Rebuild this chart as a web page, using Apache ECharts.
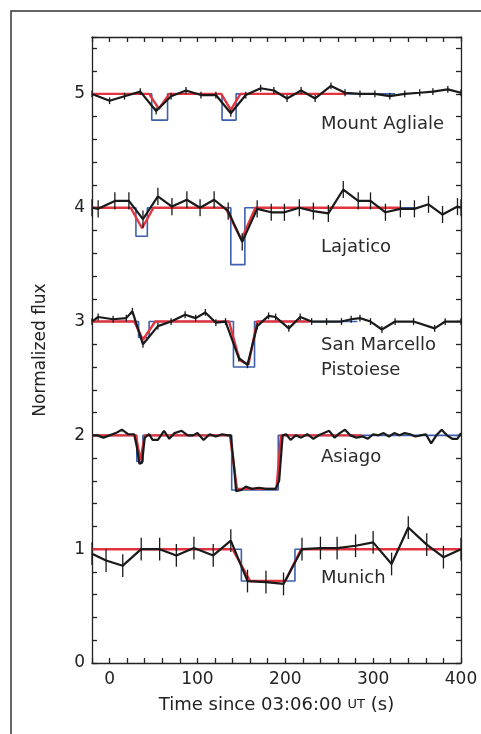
<!DOCTYPE html>
<html>
<head>
<meta charset="utf-8">
<script src="https://cdn.jsdelivr.net/npm/echarts@6/dist/echarts.min.js"></script>
<style>
  html, body { margin: 0; padding: 0; background: #fff; }
  #chart { width: 481px; height: 734px; }
</style>
</head>
<body>
<div id="chart"></div>
<script>
// observed light curves, offset per station (seconds since 03:06:00 UT, normalized flux)
const aglialeT = [-20, 0, 17, 35, 53, 70, 87, 104, 121, 138, 155, 172, 187, 202, 218, 234, 252, 268, 285, 302, 319, 336, 353, 368, 385, 400];
const aglialeV = [5.0, 4.94, 4.98, 5.02, 4.85, 4.98, 5.03, 4.99, 4.99, 4.83, 4.99, 5.05, 5.03, 4.96, 5.03, 4.96, 5.07, 5.01, 5.0, 5.0, 4.98, 5.0, 5.01, 5.02, 5.04, 5.01];

const lajaticoT = [-20, -13, 6, 22, 38, 55, 71, 88, 103, 119, 135, 151, 168, 184, 199, 216, 232, 249, 266, 283, 297, 314, 331, 347, 363, 379, 396, 400];
const lajaticoV = [4.0, 3.99, 4.06, 4.06, 3.9, 4.1, 4.01, 4.07, 4.0, 4.07, 3.97, 3.7, 3.99, 3.96, 3.96, 4.0, 3.97, 3.95, 4.16, 4.06, 4.06, 3.96, 3.99, 3.99, 4.03, 3.94, 4.01, 4.0];

const marcelloT = [-20, -13, 4, 19, 26, 38, 55, 70, 86, 98, 109, 121, 132, 147, 157, 168, 181, 189, 204, 217, 230, 247, 264, 275, 285, 297, 310, 325, 346, 370, 382, 400];
const marcelloV = [3.0, 3.04, 3.02, 3.03, 3.09, 2.8, 2.96, 3.0, 3.06, 3.03, 3.08, 2.99, 3.0, 2.68, 2.62, 2.96, 3.05, 3.04, 2.94, 3.04, 3.0, 3.0, 3.0, 3.02, 3.03, 3.0, 2.93, 3.0, 3.0, 2.94, 3.0, 3.0];

const asiagoT = [-20, -14, -7, 0, 7, 14, 21, 28, 31, 34, 37, 40, 45, 49, 55, 62, 68, 74, 82, 89, 95, 100, 107, 114, 121, 128, 135, 138, 142, 144, 150, 155, 162, 170, 178, 185, 189, 193, 197, 201, 206, 212, 218, 225, 232, 238, 244, 250, 256, 262, 268, 274, 281, 288, 294, 300, 306, 312, 318, 324, 330, 336, 342, 348, 354, 360, 366, 372, 378, 384, 390, 396, 400];
const asiagoV = [2.0, 2.0, 1.98, 2.0, 2.02, 2.05, 2.01, 2.01, 1.9, 1.75, 1.76, 1.98, 2.01, 1.96, 1.96, 2.04, 1.97, 2.02, 2.04, 2.0, 2.0, 2.02, 1.96, 2.01, 1.99, 2.01, 2.0, 2.0, 1.7, 1.51, 1.52, 1.55, 1.53, 1.54, 1.53, 1.53, 1.53, 1.6, 2.0, 2.01, 1.96, 2.0, 1.98, 2.01, 1.97, 2.0, 2.02, 2.04, 1.98, 2.02, 2.05, 2.0, 1.98, 1.99, 1.97, 2.01, 2.0, 2.02, 1.99, 2.02, 2.0, 2.02, 2.01, 1.99, 2.0, 2.01, 1.93, 2.0, 2.05, 2.0, 1.97, 1.97, 2.02];

const munichT = [-20, -4, 15, 36, 57, 76, 96, 118, 138, 157, 178, 198, 219, 240, 259, 280, 300, 321, 340, 361, 380, 400];
const munichV = [0.96, 0.9, 0.855, 1.0, 1.0, 0.945, 1.01, 0.945, 1.075, 0.72, 0.71, 0.695, 1.0, 1.01, 1.01, 1.03, 1.06, 0.87, 1.19, 1.04, 0.93, 1.0];

// error bar half-heights per station
const errAgliale = 0.03, errLajatico = 0.075, errMarcello = 0.03, errMunich = 0.1;

// smoothed model (red)
const redAgliale = [[-20, 5], [45, 5], [56, 4.87], [68, 5], [127, 5], [138, 4.86], [149, 5], [270, 5]];
const redLajatico = [[-20, 4], [24, 4], [37, 3.82], [50, 4], [132, 4], [150, 3.72], [166, 4], [330, 4]];
const redMarcello = [[-20, 3], [28, 3], [38, 2.84], [52, 3], [136, 3], [148, 2.66], [158, 2.62], [168, 3], [228, 3]];
const redAsiago = [[-20, 2], [30, 2], [35, 1.78], [40, 2], [137, 2], [145, 1.53], [190, 1.53], [195, 2], [287, 2]];
const redMunich = [[-20, 1], [140, 1], [160, 0.72], [200, 0.72], [218, 1], [400, 1]];

// square-well occultation model (blue)
const blueAgliale = [[-20, 5], [48, 5], [48, 4.77], [66, 4.77], [66, 5], [128, 5], [128, 4.77], [144, 4.77], [144, 5], [325, 5]];
const blueLajatico = [[-20, 4], [30, 4], [30, 3.75], [43, 3.75], [43, 4], [138, 4], [138, 3.5], [154, 3.5], [154, 4], [348, 4]];
const blueMarcello = [[-20, 3], [33, 3], [33, 2.86], [45, 2.86], [45, 3], [141, 3], [141, 2.6], [165, 2.6], [165, 3], [282, 3]];
const blueAsiago = [[-20, 2], [31, 2], [31, 1.77], [38, 1.77], [38, 2], [139, 2], [139, 1.52], [192, 1.52], [192, 2], [400, 2]];
const blueMunich = [[-20, 1], [150, 1], [150, 0.72], [211, 0.72], [211, 1], [400, 1]];

const stationNames = ['Mount Agliale', 'Lajatico', 'San Marcello', 'Pistoiese', 'Asiago', 'Munich'];

const INK = '#1a1a1a';
const RED = '#e2343f';
const BLUE = '#3d5fae';
const FONT = 'DejaVu Sans';

function zip(t, v) {
    return t.map(function (x, i) { return [x, v[i]]; });
}

function modelLine(data, color, width, z) {
    return {
        type: 'line', data: data, symbol: 'none', z: z, silent: true,
        lineStyle: { color: color, width: width }, animation: false
    };
}

function errorBars(t, v, err) {
    return {
        type: 'custom', z: 4, silent: true, animation: false,
        data: t.map(function (x, i) { return [x, v[i] - err, v[i] + err]; }),
        renderItem: function (params, api) {
            const lo = api.coord([api.value(0), api.value(1)]);
            const hi = api.coord([api.value(0), api.value(2)]);
            return {
                type: 'line',
                shape: { x1: lo[0], y1: lo[1], x2: hi[0], y2: hi[1] },
                style: { stroke: INK, lineWidth: 1.3 }
            };
        }
    };
}

const chart = echarts.init(document.getElementById('chart'));

const series = [];
[blueAgliale, blueLajatico, blueMarcello, blueAsiago, blueMunich].forEach(function (d) {
    series.push(modelLine(d, BLUE, 1.6, 1));
});
[redAgliale, redLajatico, redMarcello, redAsiago, redMunich].forEach(function (d) {
    series.push(modelLine(d, RED, 2.4, 2));
});
[[aglialeT, aglialeV], [lajaticoT, lajaticoV], [marcelloT, marcelloV], [asiagoT, asiagoV], [munichT, munichV]].forEach(function (p) {
    series.push(modelLine(zip(p[0], p[1]), INK, 2.2, 5));
});
series.push(errorBars(aglialeT, aglialeV, errAgliale));
series.push(errorBars(lajaticoT, lajaticoV, errLajatico));
series.push(errorBars(marcelloT, marcelloV, errMarcello));
series.push(errorBars(munichT, munichV, errMunich));

const axisLine = { onZero: false, lineStyle: { color: '#222', width: 1.3 } };
const tickStyle = { inside: true, length: 5, lineStyle: { color: '#222', width: 1.3 } };
const labelFont = { color: '#222', fontFamily: FONT, fontSize: 17 };

function labels(t, y) {
    return { fontFamily: FONT, fontSize: 18, fill: '#2a2a2a', text: t, x: 321, y: y };
}

const option = {
    backgroundColor: '#ffffff',
    animation: false,
    grid: { left: 92, right: 20, top: 37, bottom: 71 },
    xAxis: [
        {
            type: 'value', min: -20, max: 400, interval: 20,
            axisLine: axisLine, axisTick: tickStyle, splitLine: { show: false },
            axisLabel: Object.assign({
                margin: 8,
                formatter: function (v) { return v % 100 === 0 ? String(v) : ''; }
            }, labelFont),
            name: 'Time since 03:06:00 {sc|UT} (s)',
            nameLocation: 'middle', nameGap: 33,
            nameTextStyle: {
                color: '#222', fontFamily: FONT, fontSize: 18,
                rich: { sc: { fontFamily: FONT, fontSize: 13, color: '#222' } }
            }
        },
        {
            type: 'value', min: -20, max: 400, interval: 20, position: 'top',
            axisLine: axisLine, axisTick: tickStyle, splitLine: { show: false },
            axisLabel: { show: false }
        }
    ],
    yAxis: [
        {
            type: 'value', min: 0, max: 5.5, interval: 0.2, position: 'left',
            axisLine: axisLine, axisTick: tickStyle, splitLine: { show: false },
            axisLabel: Object.assign({
                margin: 7,
                formatter: function (v) {
                    return Math.abs(v - Math.round(v)) < 1e-6 ? String(Math.round(v)) : '';
                }
            }, labelFont),
            name: 'Normalized flux', nameLocation: 'middle', nameGap: 43, nameRotate: 90,
            nameTextStyle: { color: '#222', fontFamily: FONT, fontSize: 17 }
        },
        {
            type: 'value', min: 0, max: 5.5, interval: 0.2, position: 'right',
            axisLine: axisLine, axisTick: tickStyle, splitLine: { show: false },
            axisLabel: { show: false }
        }
    ],
    graphic: [
        { type: 'polyline', shape: { points: [[11, 734], [11, 11], [481, 11]] }, style: { stroke: '#333', lineWidth: 1.5, fill: null } },
        { type: 'text', style: labels(stationNames[0], 115) },
        { type: 'text', style: labels(stationNames[1], 238) },
        { type: 'text', style: labels(stationNames[2], 336) },
        { type: 'text', style: labels(stationNames[3], 361) },
        { type: 'text', style: labels(stationNames[4], 448) },
        { type: 'text', style: labels(stationNames[5], 569) }
    ],
    series: series
};

chart.setOption(option);
</script>
</body>
</html>
